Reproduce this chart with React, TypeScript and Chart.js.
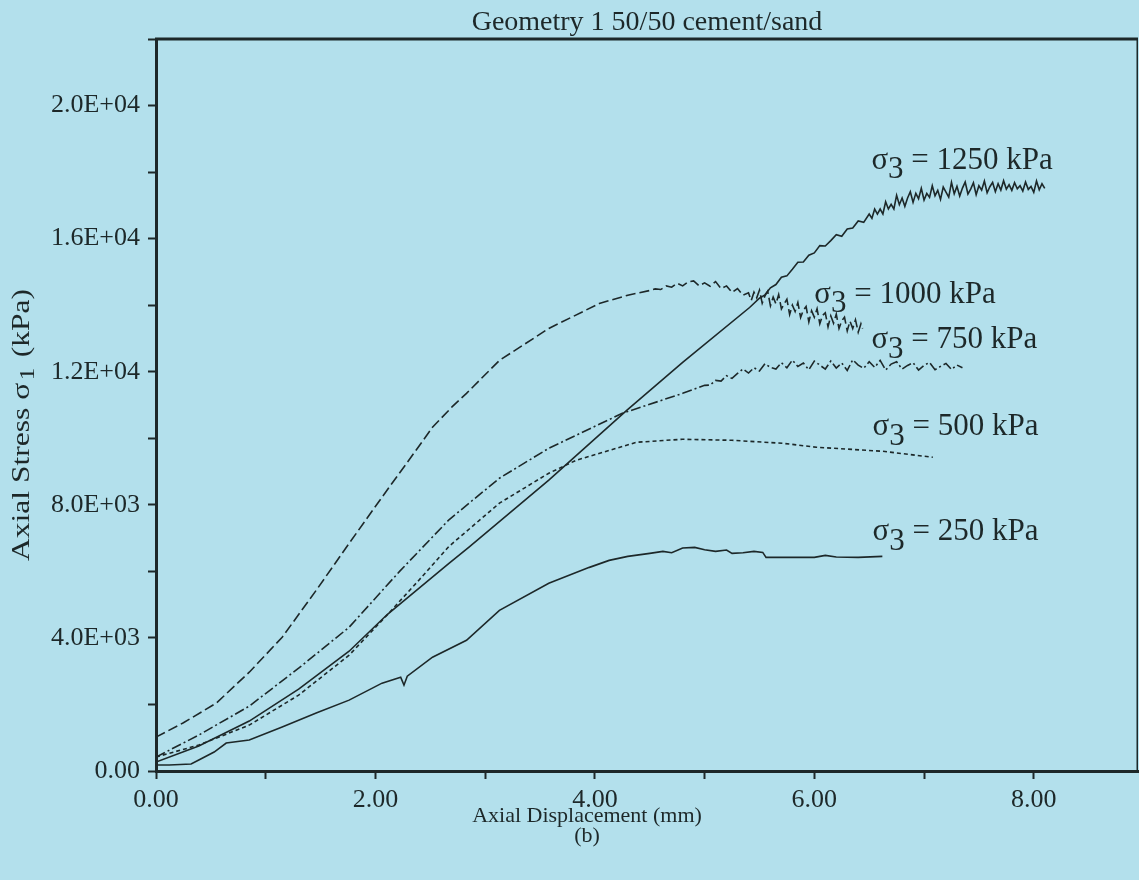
import React, { useEffect, useRef } from "react";
import { Chart, registerables } from "chart.js";

Chart.register(...registerables);

// Axial displacement (mm) / axial stress (kPa) for each confining pressure

const disp250 = [0, 0.12, 0.32, 0.39, 0.53, 0.64, 0.85, 1.15, 1.46, 1.76, 2.06, 2.23, 2.26, 2.29, 2.52, 2.83, 3.13, 3.58, 3.95, 4.13, 4.3, 4.5, 4.62, 4.7, 4.8, 4.91, 5.0, 5.1, 5.2, 5.25, 5.35, 5.45, 5.53, 5.56, 5.8, 6.0, 6.1, 6.2, 6.4, 6.62];
const stress250 = [180, 180, 210, 330, 570, 840, 930, 1320, 1740, 2130, 2640, 2820, 2580, 2850, 3420, 3930, 4830, 5640, 6120, 6330, 6450, 6540, 6600, 6560, 6700, 6720, 6650, 6600, 6640, 6540, 6560, 6600, 6570, 6420, 6420, 6420, 6480, 6430, 6420, 6450];

const disp500 = [0, 0.39, 0.85, 1.3, 1.76, 2.11, 2.4, 2.67, 3.13, 3.58, 3.83, 4.38, 4.8, 5.25, 5.71, 6.02, 6.62, 7.08];
const stress500 = [420, 780, 1380, 2280, 3480, 4700, 5750, 6750, 8050, 8950, 9340, 9880, 9970, 9940, 9850, 9730, 9610, 9430];

const disp750 = [0, 0.39, 0.85, 1.3, 1.76, 2.22, 2.67, 3.13, 3.58, 4.25, 4.8, 4.9, 5.0, 5.05, 5.1, 5.15, 5.2, 5.25, 5.3, 5.35, 5.4, 5.45, 5.5, 5.55, 5.6, 5.65, 5.7, 5.75, 5.8, 5.85, 5.9, 5.95, 6.0, 6.05, 6.1, 6.15, 6.2, 6.25, 6.3, 6.35, 6.4, 6.45, 6.5, 6.55, 6.6, 6.65, 6.7, 6.75, 6.8, 6.85, 6.9, 6.95, 7.0, 7.05, 7.1, 7.15, 7.2, 7.25, 7.3, 7.35];
const stress750 = [420, 1080, 1950, 3090, 4320, 6000, 7550, 8800, 9700, 10750, 11350, 11470, 11590, 11600, 11740, 11720, 11880, 11800, 11950, 12080, 11960, 12120, 12020, 12240, 12130, 12080, 12270, 12120, 12350, 12160, 12260, 12060, 12320, 12200, 12080, 12320, 12110, 12260, 12040, 12360, 12200, 12100, 12300, 12130, 12340, 12050, 12230, 12300, 12080, 12190, 12270, 12050, 12190, 12280, 12060, 12160, 12250, 12070, 12200, 12120];

const disp1000 = [0, 0.25, 0.55, 0.85, 1.15, 1.46, 1.76, 2.06, 2.37, 2.52, 2.7, 2.83, 3.13, 3.58, 4.04, 4.3, 4.5, 4.55, 4.6, 4.65, 4.7, 4.75, 4.8, 4.85, 4.9, 4.95, 5.0, 5.05, 5.1, 5.15, 5.2, 5.25, 5.3, 5.35, 5.4, 5.425, 5.45, 5.475, 5.5, 5.525, 5.55, 5.575, 5.6, 5.625, 5.65, 5.675, 5.7, 5.725, 5.75, 5.775, 5.8, 5.825, 5.85, 5.875, 5.9, 5.925, 5.95, 5.975, 6.0, 6.025, 6.05, 6.075, 6.1, 6.125, 6.15, 6.175, 6.2, 6.225, 6.25, 6.275, 6.3, 6.325, 6.35, 6.375, 6.4, 6.425, 6.44];
const stress1000 = [1020, 1450, 2040, 2970, 4020, 5430, 6840, 8230, 9640, 10330, 10950, 11350, 12340, 13300, 14050, 14300, 14440, 14490, 14470, 14580, 14540, 14660, 14580, 14700, 14730, 14580, 14670, 14570, 14710, 14500, 14580, 14380, 14500, 14300, 14370, 14140, 14390, 14220, 14450, 14060, 14280, 14420, 13980, 14240, 14040, 14320, 13890, 14040, 14180, 13720, 14000, 13810, 14080, 13630, 13850, 13960, 13500, 13830, 13640, 13890, 13440, 13690, 13770, 13350, 13680, 13460, 13730, 13300, 13530, 13640, 13230, 13520, 13300, 13560, 13190, 13440, 13300];

const disp1250 = [0, 0.39, 0.85, 1.3, 1.76, 2.11, 2.67, 2.85, 3.58, 4.29, 4.8, 5.41, 5.5, 5.55, 5.6, 5.65, 5.7, 5.75, 5.8, 5.85, 5.9, 5.95, 6.0, 6.05, 6.1, 6.15, 6.2, 6.25, 6.3, 6.35, 6.4, 6.45, 6.5, 6.525, 6.55, 6.575, 6.6, 6.625, 6.65, 6.675, 6.7, 6.725, 6.75, 6.775, 6.8, 6.825, 6.85, 6.875, 6.9, 6.925, 6.95, 6.975, 7.0, 7.025, 7.05, 7.075, 7.1, 7.125, 7.15, 7.175, 7.2, 7.225, 7.25, 7.275, 7.3, 7.325, 7.35, 7.375, 7.4, 7.425, 7.45, 7.475, 7.5, 7.525, 7.55, 7.575, 7.6, 7.625, 7.65, 7.675, 7.7, 7.725, 7.75, 7.775, 7.8, 7.825, 7.85, 7.875, 7.9, 7.925, 7.95, 7.975, 8.0, 8.025, 8.05, 8.075, 8.1];
const stress1250 = [270, 750, 1500, 2460, 3600, 4710, 6240, 6720, 8740, 10840, 12280, 13930, 14210, 14310, 14520, 14620, 14840, 14880, 15080, 15290, 15300, 15500, 15570, 15790, 15780, 15940, 16120, 16070, 16290, 16320, 16530, 16490, 16740, 16610, 16890, 16740, 16890, 16740, 17110, 16890, 17030, 16890, 17300, 17020, 17220, 16970, 17220, 17410, 17090, 17360, 17200, 17510, 17160, 17360, 17240, 17590, 17290, 17450, 17180, 17550, 17400, 17250, 17690, 17350, 17570, 17280, 17520, 17700, 17340, 17490, 17680, 17320, 17590, 17460, 17730, 17380, 17560, 17690, 17410, 17650, 17460, 17740, 17490, 17620, 17450, 17680, 17500, 17590, 17430, 17700, 17480, 17570, 17390, 17730, 17470, 17650, 17510];

const pressureLabels = ["1250", "1000", "750", "500", "250"];

const TITLE = "Geometry 1 50/50 cement/sand";
const X_TITLE = "Axial Displacement (mm)";
const SUB_CAPTION = "(b)";

const BG = "#b3e0ec";
const INK = "#1d2829";
const SERIF = '"Liberation Serif", "Times New Roman", serif';

// Where each σ3 caption sits, in axis units (left edge, text baseline)
const captionAnchors: Record<string, [number, number]> = {
  "1250": [6.52, 18100],
  "1000": [6.0, 14080],
  "750": [6.52, 12700],
  "500": [6.53, 10090],
  "250": [6.53, 6930],
};

const toPoints = (xs: number[], ys: number[]) => xs.map((x, i) => ({ x, y: ys[i] }));

const sci = (v: number) => {
  if (v === 0) return "0.00";
  const e = Math.floor(Math.log10(v) + 1e-9);
  const m = v / Math.pow(10, e);
  return `${m.toFixed(1)}E+${String(e).padStart(2, "0")}`;
};

const drawSigma = (
  ctx: CanvasRenderingContext2D,
  x: number,
  y: number,
  sub: string,
  rest: string,
  size: number
) => {
  ctx.font = `${size}px ${SERIF}`;
  ctx.textAlign = "left";
  ctx.textBaseline = "alphabetic";
  ctx.fillText("σ", x, y);
  const w1 = ctx.measureText("σ").width;
  ctx.fillText(sub, x + w1, y + size * 0.3);
  const w2 = ctx.measureText(sub).width;
  ctx.fillText(rest, x + w1 + w2, y);
};

const decorations = {
  id: "decorations",
  beforeDraw(chart: Chart) {
    const { ctx, width, height } = chart;
    ctx.save();
    ctx.fillStyle = BG;
    ctx.fillRect(0, 0, width, height);
    ctx.restore();
  },
  afterDraw(chart: Chart) {
    const { ctx, chartArea } = chart;
    const xs = chart.scales.x;
    const ys = chart.scales.y;
    ctx.save();
    ctx.strokeStyle = INK;
    ctx.fillStyle = INK;

    // top and right frame
    ctx.lineWidth = 3;
    ctx.beginPath();
    ctx.moveTo(chartArea.left - 1, chartArea.top);
    ctx.lineTo(chartArea.right, chartArea.top);
    ctx.stroke();
    ctx.lineWidth = 1.5;
    ctx.beginPath();
    ctx.moveTo(chartArea.right - 0.75, chartArea.top);
    ctx.lineTo(chartArea.right - 0.75, chartArea.bottom);
    ctx.stroke();

    // title
    const cx = (chartArea.left + chartArea.right) / 2;
    ctx.font = `28px ${SERIF}`;
    ctx.textAlign = "center";
    ctx.textBaseline = "alphabetic";
    ctx.fillText(TITLE, cx, chartArea.top - 9);

    // x axis title and caption
    ctx.font = `22px ${SERIF}`;
    const xtX = cx - 60;
    ctx.fillText(X_TITLE, xtX, chartArea.bottom + 51);
    ctx.fillText(SUB_CAPTION, xtX, chartArea.bottom + 71);

    // y axis title, rotated
    ctx.save();
    ctx.translate(22, (chartArea.top + chartArea.bottom) / 2 + 20);
    ctx.rotate(-Math.PI / 2);
    const size = 26;
    const main = `${size}px ${SERIF}`;
    const small = `${size * 0.8}px ${SERIF}`;
    ctx.font = main;
    const p1 = "Axial Stress σ";
    const p3 = " (kPa)";
    const w1 = ctx.measureText(p1).width;
    const w3 = ctx.measureText(p3).width;
    ctx.font = small;
    const w2 = ctx.measureText("1").width + 4;
    const total = w1 + w2 + w3;
    const stretch = 272 / total;
    ctx.scale(stretch, 1);
    ctx.textAlign = "left";
    ctx.textBaseline = "middle";
    let px = -total / 2;
    ctx.font = main;
    ctx.fillText(p1, px, 0);
    px += w1 + 2;
    ctx.font = small;
    ctx.fillText("1", px, 7);
    px += w2 - 2;
    ctx.font = main;
    ctx.fillText(p3, px, 0);
    ctx.restore();

    // σ3 captions
    pressureLabels.forEach((p) => {
      const [ax, ay] = captionAnchors[p];
      drawSigma(ctx, xs.getPixelForValue(ax), ys.getPixelForValue(ay), "3", ` = ${p} kPa`, 31);
    });

    ctx.restore();
  },
};

export default function App() {
  const canvasRef = useRef<HTMLCanvasElement | null>(null);

  useEffect(() => {
    const canvas = canvasRef.current;
    if (!canvas) return;

    const line = (data: { x: number; y: number }[], dash: number[]) => ({
      data,
      borderColor: INK,
      borderWidth: 1.6,
      borderDash: dash,
      pointRadius: 0,
      tension: 0,
      fill: false,
    });

    const chart = new Chart(canvas, {
      type: "line",
      data: {
        datasets: [
          line(toPoints(disp250, stress250), []),
          line(toPoints(disp500, stress500), [4, 3]),
          line(toPoints(disp750, stress750), [10, 3, 2, 3]),
          line(toPoints(disp1000, stress1000), [10, 4]),
          line(toPoints(disp1250, stress1250), []),
        ],
      },
      options: {
        animation: false,
        responsive: false,
        devicePixelRatio: 1,
        layout: { padding: { top: 39, right: 1, left: 0, bottom: 0 } },
        plugins: {
          legend: { display: false },
          tooltip: { enabled: false },
          title: { display: false },
        },
        scales: {
          x: {
            type: "linear",
            min: 0,
            max: 8.95,
            afterFit: (scale: any) => {
              scale.height = 109;
            },
            border: { display: true, color: INK, width: 3 },
            grid: {
              drawOnChartArea: false,
              drawTicks: true,
              tickLength: 8,
              tickWidth: 2,
              tickColor: INK,
            },
            ticks: {
              stepSize: 1,
              includeBounds: false,
              autoSkip: false,
              maxRotation: 0,
              padding: 6,
              color: INK,
              font: { family: SERIF, size: 26 },
              callback: (v: any) => (Number(v) % 2 === 0 ? Number(v).toFixed(2) : ""),
            },
          },
          y: {
            type: "linear",
            min: 0,
            max: 22000,
            afterFit: (scale: any) => {
              scale.width = 156;
            },
            border: { display: true, color: INK, width: 3 },
            grid: {
              drawOnChartArea: false,
              drawTicks: true,
              tickLength: 8,
              tickWidth: 2,
              tickColor: INK,
            },
            ticks: {
              stepSize: 2000,
              autoSkip: false,
              padding: 8,
              color: INK,
              font: { family: SERIF, size: 26 },
              callback: (v: any) => {
                const n = Number(v);
                return n % 4000 === 0 && n <= 20000 ? sci(n) : "";
              },
            },
          },
        },
      },
      plugins: [decorations],
    });

    return () => chart.destroy();
  }, []);

  return (
    <div style={{ position: "fixed", left: 0, top: 0, width: 1139, height: 880, background: BG }}>
      <canvas ref={canvasRef} width={1139} height={880} style={{ display: "block" }} />
    </div>
  );
}
